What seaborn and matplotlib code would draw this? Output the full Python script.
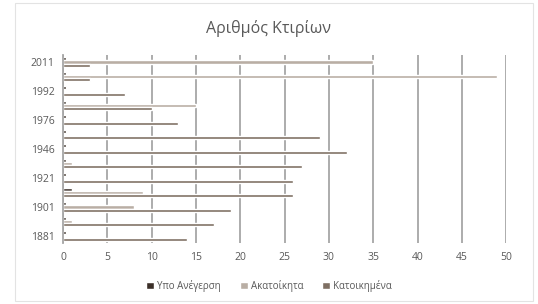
import matplotlib
matplotlib.use("Agg")
import matplotlib.pyplot as plt
import pandas as pd
import seaborn as sns
from matplotlib.patches import Rectangle

# categories (top to bottom, as drawn)
years = ["2011", "2001", "1992", "1981", "1976", "1961", "1946",
         "1931", "1921", "1911", "1901", "1891", "1881"]
series_names = ["Υπο Ανέγερση", "Ακατοίκητα", "Κατοικημένα"]
under_construction = [0.3, 0.3, 0.3, 0.3, 0.3, 0.3, 0.3, 0.3, 0.3, 1, 0.3, 0.3, 0.3]
vacant = [35, 49, 0, 15, 0, 0, 0, 1, 0, 9, 8, 1, 0]
inhabited = [3, 3, 7, 10, 13, 29, 32, 27, 26, 26, 19, 17, 14]
shown_labels = ["2011", "1992", "1976", "1946", "1921", "1901", "1881"]

colors = ["#3b2f28", "#b9aea4", "#7e6f63"]

df = pd.DataFrame({
    "year": years * 3,
    "series": sum([[s] * len(years) for s in series_names], []),
    "value": under_construction + vacant + inhabited,
})

sns.set_theme(style="white")
plt.rcParams["font.family"] = ["Open Sans", "DejaVu Sans"]

fig = plt.figure(figsize=(5.38, 3.04), dpi=100)
ax = fig.add_axes([0.117, 0.2, 0.824, 0.62])

sns.barplot(data=df, x="value", y="year", hue="series", order=years,
            hue_order=series_names, palette=colors, orient="h",
            width=0.68, saturation=1, ax=ax, legend=True)

ax.set_xlim(0, 50)
ax.set_xticks(range(0, 51, 5))
ax.xaxis.grid(True, color="#a6a6a6", linewidth=1.3)
ax.set_axisbelow(True)
for side in ["top", "right", "bottom"]:
    ax.spines[side].set_visible(False)
ax.spines["left"].set_color("#a6a6a6")
ax.spines["left"].set_linewidth(1.3)

ax.set_yticks(range(len(years)))
ax.set_yticklabels([y if y in shown_labels else "" for y in years])
ax.tick_params(axis="both", length=0, labelsize=7.5, colors="#595959", pad=6)
ax.set_xlabel("")
ax.set_ylabel("")

fig.text(0.5, 0.905, "Αριθμός Κτιρίων", ha="center", va="center",
         fontsize=11.5, color="#595959")

handles, labels = ax.get_legend_handles_labels()
ax.get_legend().remove()
fig.legend(handles, labels, loc="center", bbox_to_anchor=(0.5, 0.06), ncol=3,
           frameon=False, fontsize=7, labelcolor="#595959",
           handlelength=0.8, handleheight=0.8, handletextpad=0.3, columnspacing=2.0)

fig.patches.append(Rectangle((0.027, 0.01), 0.963, 0.98, transform=fig.transFigure,
                             fill=False, edgecolor="#e3e3e3", linewidth=0.8))

fig.savefig("out.png", dpi=100, facecolor="white")
